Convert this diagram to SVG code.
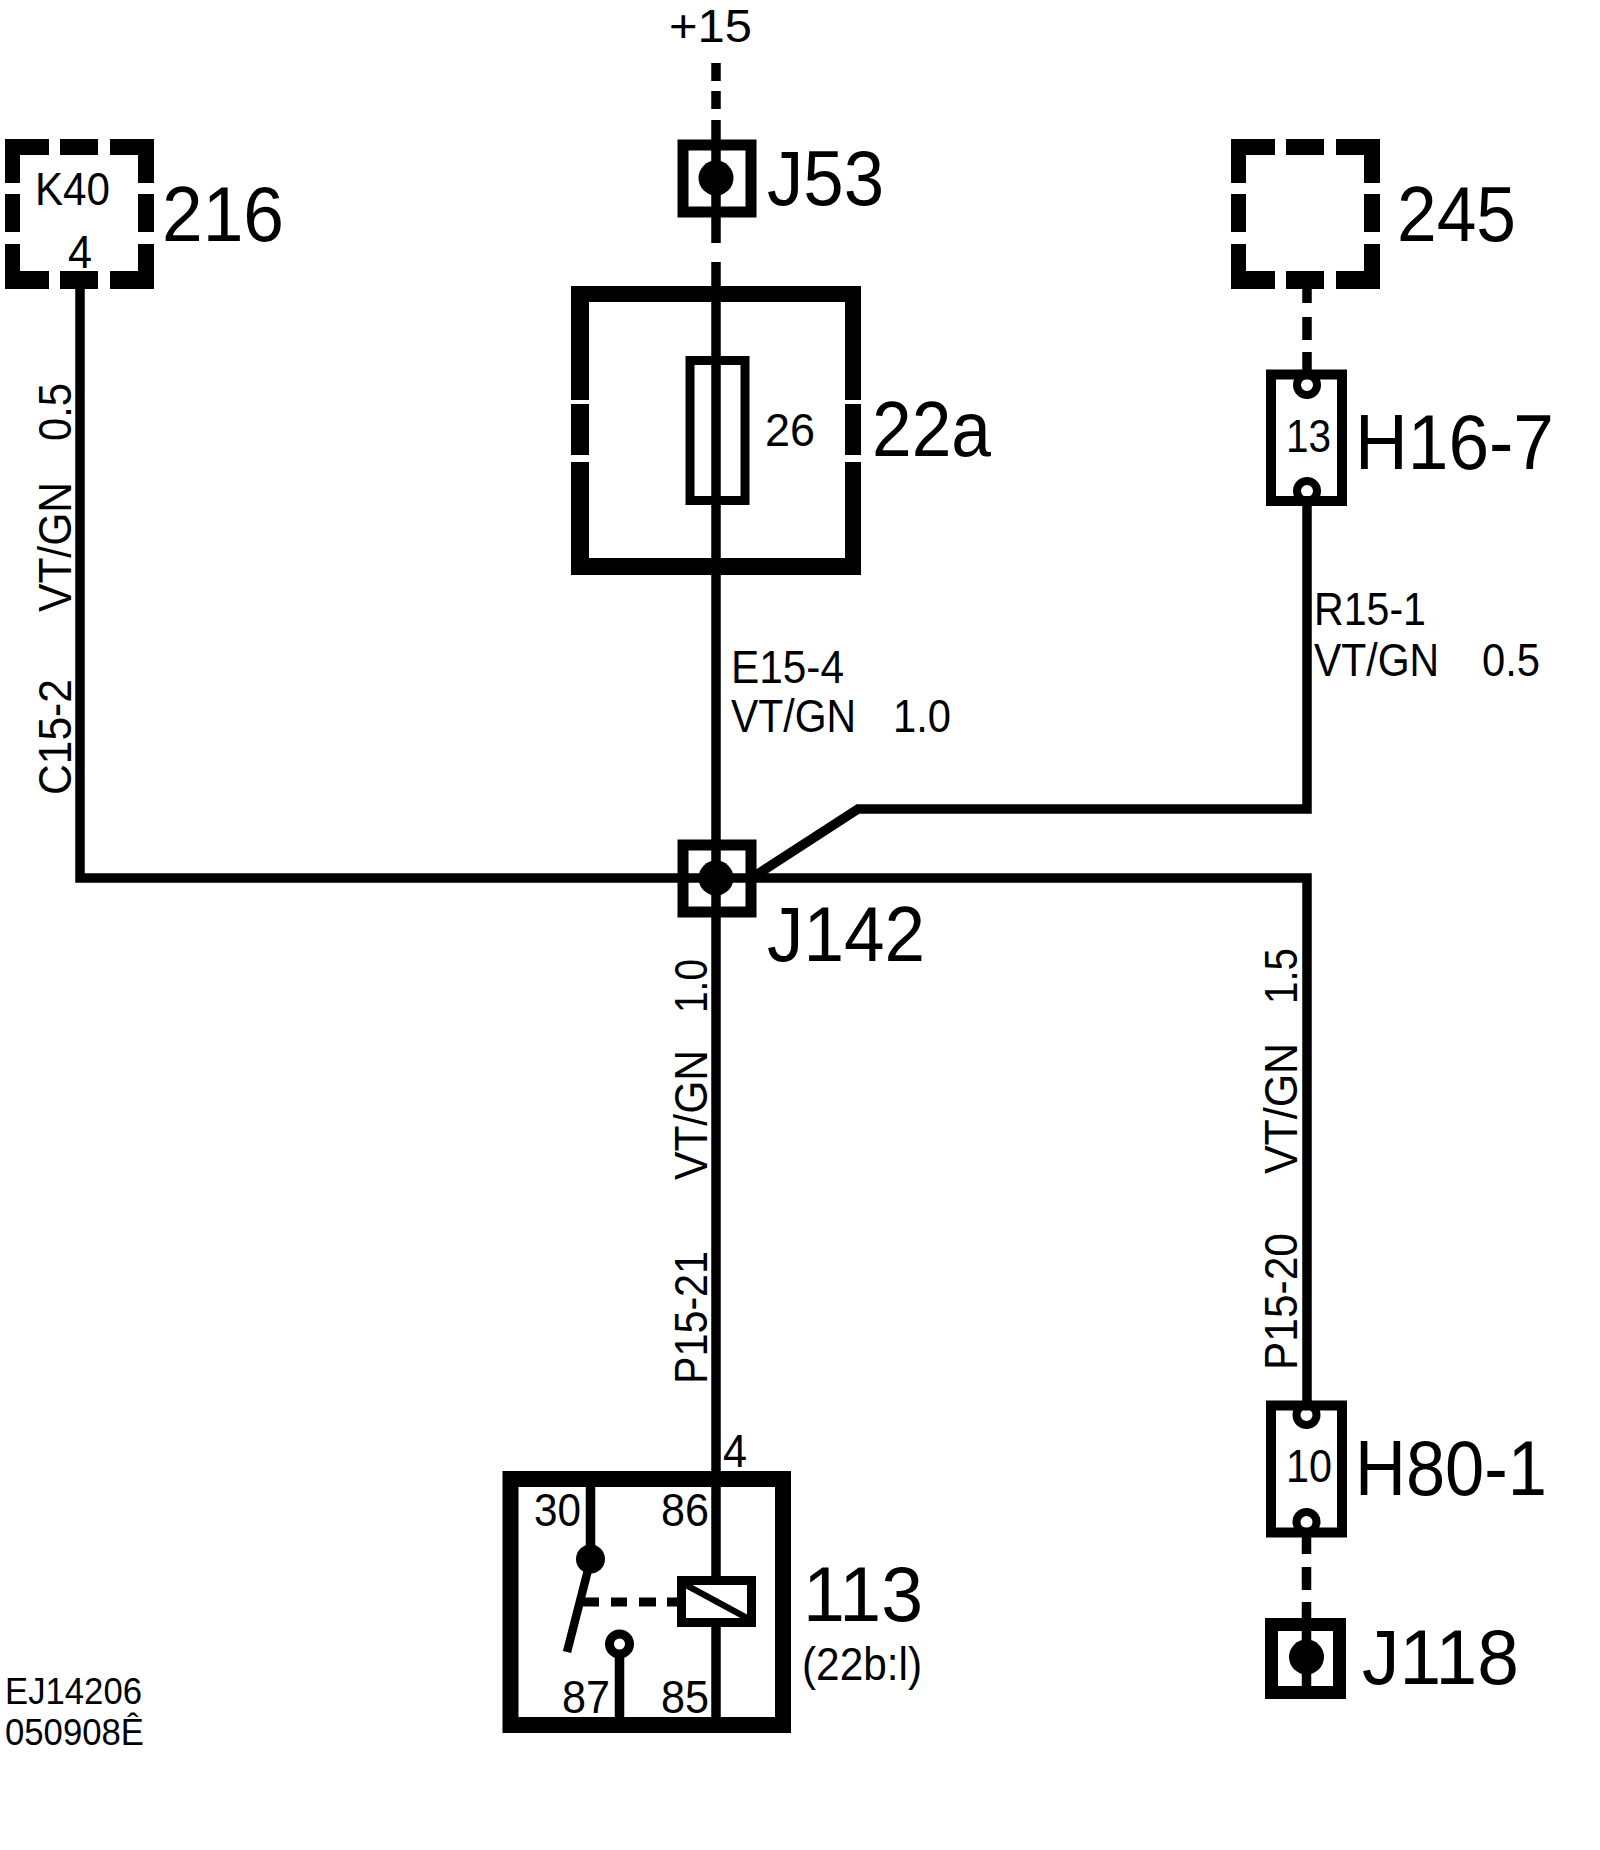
<svg xmlns="http://www.w3.org/2000/svg" width="1600" height="1850" viewBox="0 0 1600 1850">
<defs>
<style>
text{font-family:"Liberation Sans",Arial,sans-serif;fill:#000;stroke:none}
.s{font-size:46px}
.m{font-size:46px}
.l{font-size:78px}
.w{fill:none;stroke:#000;stroke-width:9.5}
.f{fill:#000;stroke:none}
</style>
<path id="dbox" class="f" d="M0 0H44V16H15V44H0ZM55 0H93V16H55ZM105 0H149V44H133V16H105ZM0 55H15V93H0ZM133 55H149V93H133ZM0 105H15V132H44V150H0ZM55 132H93V150H55ZM105 132H133V105H149V150H105Z"/>
</defs>
<rect width="1600" height="1850" fill="#fff"/>
<g id="connectors">
<path class="w" d="M716 63V81M716 91V109M716 120V139"/>
<path class="w" d="M716 139V243M716 262V1717"/>
<path class="w" d="M80 285V878H1307V1401"/>
<path class="w" d="M750 879L858 809H1307V500"/>
<path class="w" d="M1307 285V303M1307 317V340M1307 352V375"/>
<path class="w" d="M1306.500 1530V1554M1306.500 1567V1590M1306.500 1602V1690"/>
</g>
<g id="plus15"><text class="m" x="669" y="42" textLength="83" lengthAdjust="spacingAndGlyphs">+15</text></g>
<g id="K40"><use href="#dbox" x="5" y="139"/>
<text class="s" x="35" y="205" textLength="75" lengthAdjust="spacingAndGlyphs">K40</text>
<text class="s" x="68" y="268" textLength="24" lengthAdjust="spacingAndGlyphs">4</text>
<text class="l" x="162" y="241" textLength="122" lengthAdjust="spacingAndGlyphs">216</text></g>
<g id="J53"><rect x="683" y="145" width="68" height="67" fill="none" stroke="#000" stroke-width="11"/><circle class="f" cx="716" cy="178" r="17.500"/>
<text class="l" x="767" y="205" textLength="117" lengthAdjust="spacingAndGlyphs">J53</text></g>
<g id="B245"><use href="#dbox" x="1231" y="139"/>
<text class="l" x="1397" y="241" textLength="119" lengthAdjust="spacingAndGlyphs">245</text></g>
<g id="F26">
<path class="f" d="M571 286H861V400H845V302H589V400H571ZM571 404H589V455H571ZM845 404H861V455H845ZM571 462H589V558H845V462H861V575H571Z"/>
<rect x="690" y="360.500" width="55" height="140" fill="none" stroke="#000" stroke-width="9"/>
<text class="s" x="765" y="446" textLength="50" lengthAdjust="spacingAndGlyphs">26</text>
<text class="l" x="872" y="456" textLength="119" lengthAdjust="spacingAndGlyphs">22a</text></g>
<g id="H16">
<circle cx="1307" cy="385" r="10" fill="#fff" stroke="#000" stroke-width="8"/>
<circle cx="1307" cy="491" r="10" fill="#fff" stroke="#000" stroke-width="8"/>
<rect x="1271" y="374.500" width="71" height="126.500" fill="none" stroke="#000" stroke-width="10"/>
<text class="s" x="1286" y="452" textLength="45" lengthAdjust="spacingAndGlyphs">13</text>
<text class="l" x="1355" y="469" textLength="199" lengthAdjust="spacingAndGlyphs">H16-7</text></g>
<g id="J142"><rect x="683" y="845" width="68" height="67" fill="none" stroke="#000" stroke-width="11"/><circle class="f" cx="716" cy="878" r="17.500"/>
<text class="l" x="767" y="961" textLength="158" lengthAdjust="spacingAndGlyphs">J142</text></g>
<g id="wire-labels">
<text class="s" x="731" y="683" textLength="113" lengthAdjust="spacingAndGlyphs">E15-4</text>
<text class="s" x="731" y="732" textLength="125" lengthAdjust="spacingAndGlyphs">VT/GN</text>
<text class="s" x="893" y="732" textLength="58" lengthAdjust="spacingAndGlyphs">1.0</text>
<text class="s" x="1314" y="625" textLength="112" lengthAdjust="spacingAndGlyphs">R15-1</text>
<text class="s" x="1314" y="676" textLength="125" lengthAdjust="spacingAndGlyphs">VT/GN</text>
<text class="s" x="1482" y="676" textLength="58" lengthAdjust="spacingAndGlyphs">0.5</text>
<text class="s" transform="translate(71 795) rotate(-90)" textLength="116" lengthAdjust="spacingAndGlyphs">C15-2</text>
<text class="s" transform="translate(71 612) rotate(-90)" textLength="130" lengthAdjust="spacingAndGlyphs">VT/GN</text>
<text class="s" transform="translate(71 441) rotate(-90)" textLength="58" lengthAdjust="spacingAndGlyphs">0.5</text>
<text class="s" transform="translate(707 1384) rotate(-90)" textLength="133" lengthAdjust="spacingAndGlyphs">P15-21</text>
<text class="s" transform="translate(707 1180) rotate(-90)" textLength="130" lengthAdjust="spacingAndGlyphs">VT/GN</text>
<text class="s" transform="translate(707 1013) rotate(-90)" textLength="54" lengthAdjust="spacingAndGlyphs">1.0</text>
<text class="s" transform="translate(1297 1370) rotate(-90)" textLength="137" lengthAdjust="spacingAndGlyphs">P15-20</text>
<text class="s" transform="translate(1297 1174) rotate(-90)" textLength="131" lengthAdjust="spacingAndGlyphs">VT/GN</text>
<text class="s" transform="translate(1297 1004) rotate(-90)" textLength="56" lengthAdjust="spacingAndGlyphs">1.5</text>
<text class="s" x="723" y="1467" textLength="24" lengthAdjust="spacingAndGlyphs">4</text>
</g>
<g id="R113">
<rect x="510.500" y="1479" width="272.500" height="246" fill="none" stroke="#000" stroke-width="16"/>
<path class="w" d="M590.500 1487V1559M619.500 1644V1717"/>
<circle class="f" cx="590.500" cy="1559" r="14.500"/>
<path d="M588 1570L567 1652" stroke="#000" stroke-width="8.500" fill="none"/>
<path d="M583 1602H599M611 1602H627M639 1602H656M667 1602H680" stroke="#000" stroke-width="9" fill="none"/>
<rect x="681.500" y="1580.500" width="70" height="42" fill="#fff" stroke="#000" stroke-width="9"/>
<path d="M686 1585L747 1618" stroke="#000" stroke-width="6.500" fill="none"/>
<circle cx="619.500" cy="1644" r="10" fill="#fff" stroke="#000" stroke-width="9"/>
<text class="s" x="534" y="1526" textLength="47" lengthAdjust="spacingAndGlyphs">30</text>
<text class="s" x="661" y="1526" textLength="48" lengthAdjust="spacingAndGlyphs">86</text>
<text class="s" x="562" y="1713" textLength="48" lengthAdjust="spacingAndGlyphs">87</text>
<text class="s" x="661" y="1713" textLength="48" lengthAdjust="spacingAndGlyphs">85</text>
<text class="l" x="803" y="1621" textLength="120" lengthAdjust="spacingAndGlyphs">113</text>
<text class="s" x="802" y="1680" textLength="120" lengthAdjust="spacingAndGlyphs">(22b:l)</text></g>
<g id="H80">
<circle cx="1306.500" cy="1415" r="10" fill="#fff" stroke="#000" stroke-width="8"/>
<circle cx="1306.500" cy="1522" r="10" fill="#fff" stroke="#000" stroke-width="8"/>
<rect x="1271" y="1405.500" width="71" height="127" fill="none" stroke="#000" stroke-width="10"/>
<text class="s" x="1286" y="1482" textLength="46" lengthAdjust="spacingAndGlyphs">10</text>
<text class="l" x="1355" y="1495" textLength="192" lengthAdjust="spacingAndGlyphs">H80-1</text></g>
<g id="J118"><rect x="1271.500" y="1624.500" width="68" height="68" fill="none" stroke="#000" stroke-width="13"/><circle class="f" cx="1306.500" cy="1657" r="17.500"/>
<text class="l" x="1362" y="1684" textLength="157" lengthAdjust="spacingAndGlyphs">J118</text></g>
<g id="doc-ref">
<text style="font-size:36px" x="5" y="1704" textLength="137" lengthAdjust="spacingAndGlyphs">EJ14206</text>
<text style="font-size:36px" x="5" y="1745" textLength="139" lengthAdjust="spacingAndGlyphs">050908Ê</text></g>
</svg>
